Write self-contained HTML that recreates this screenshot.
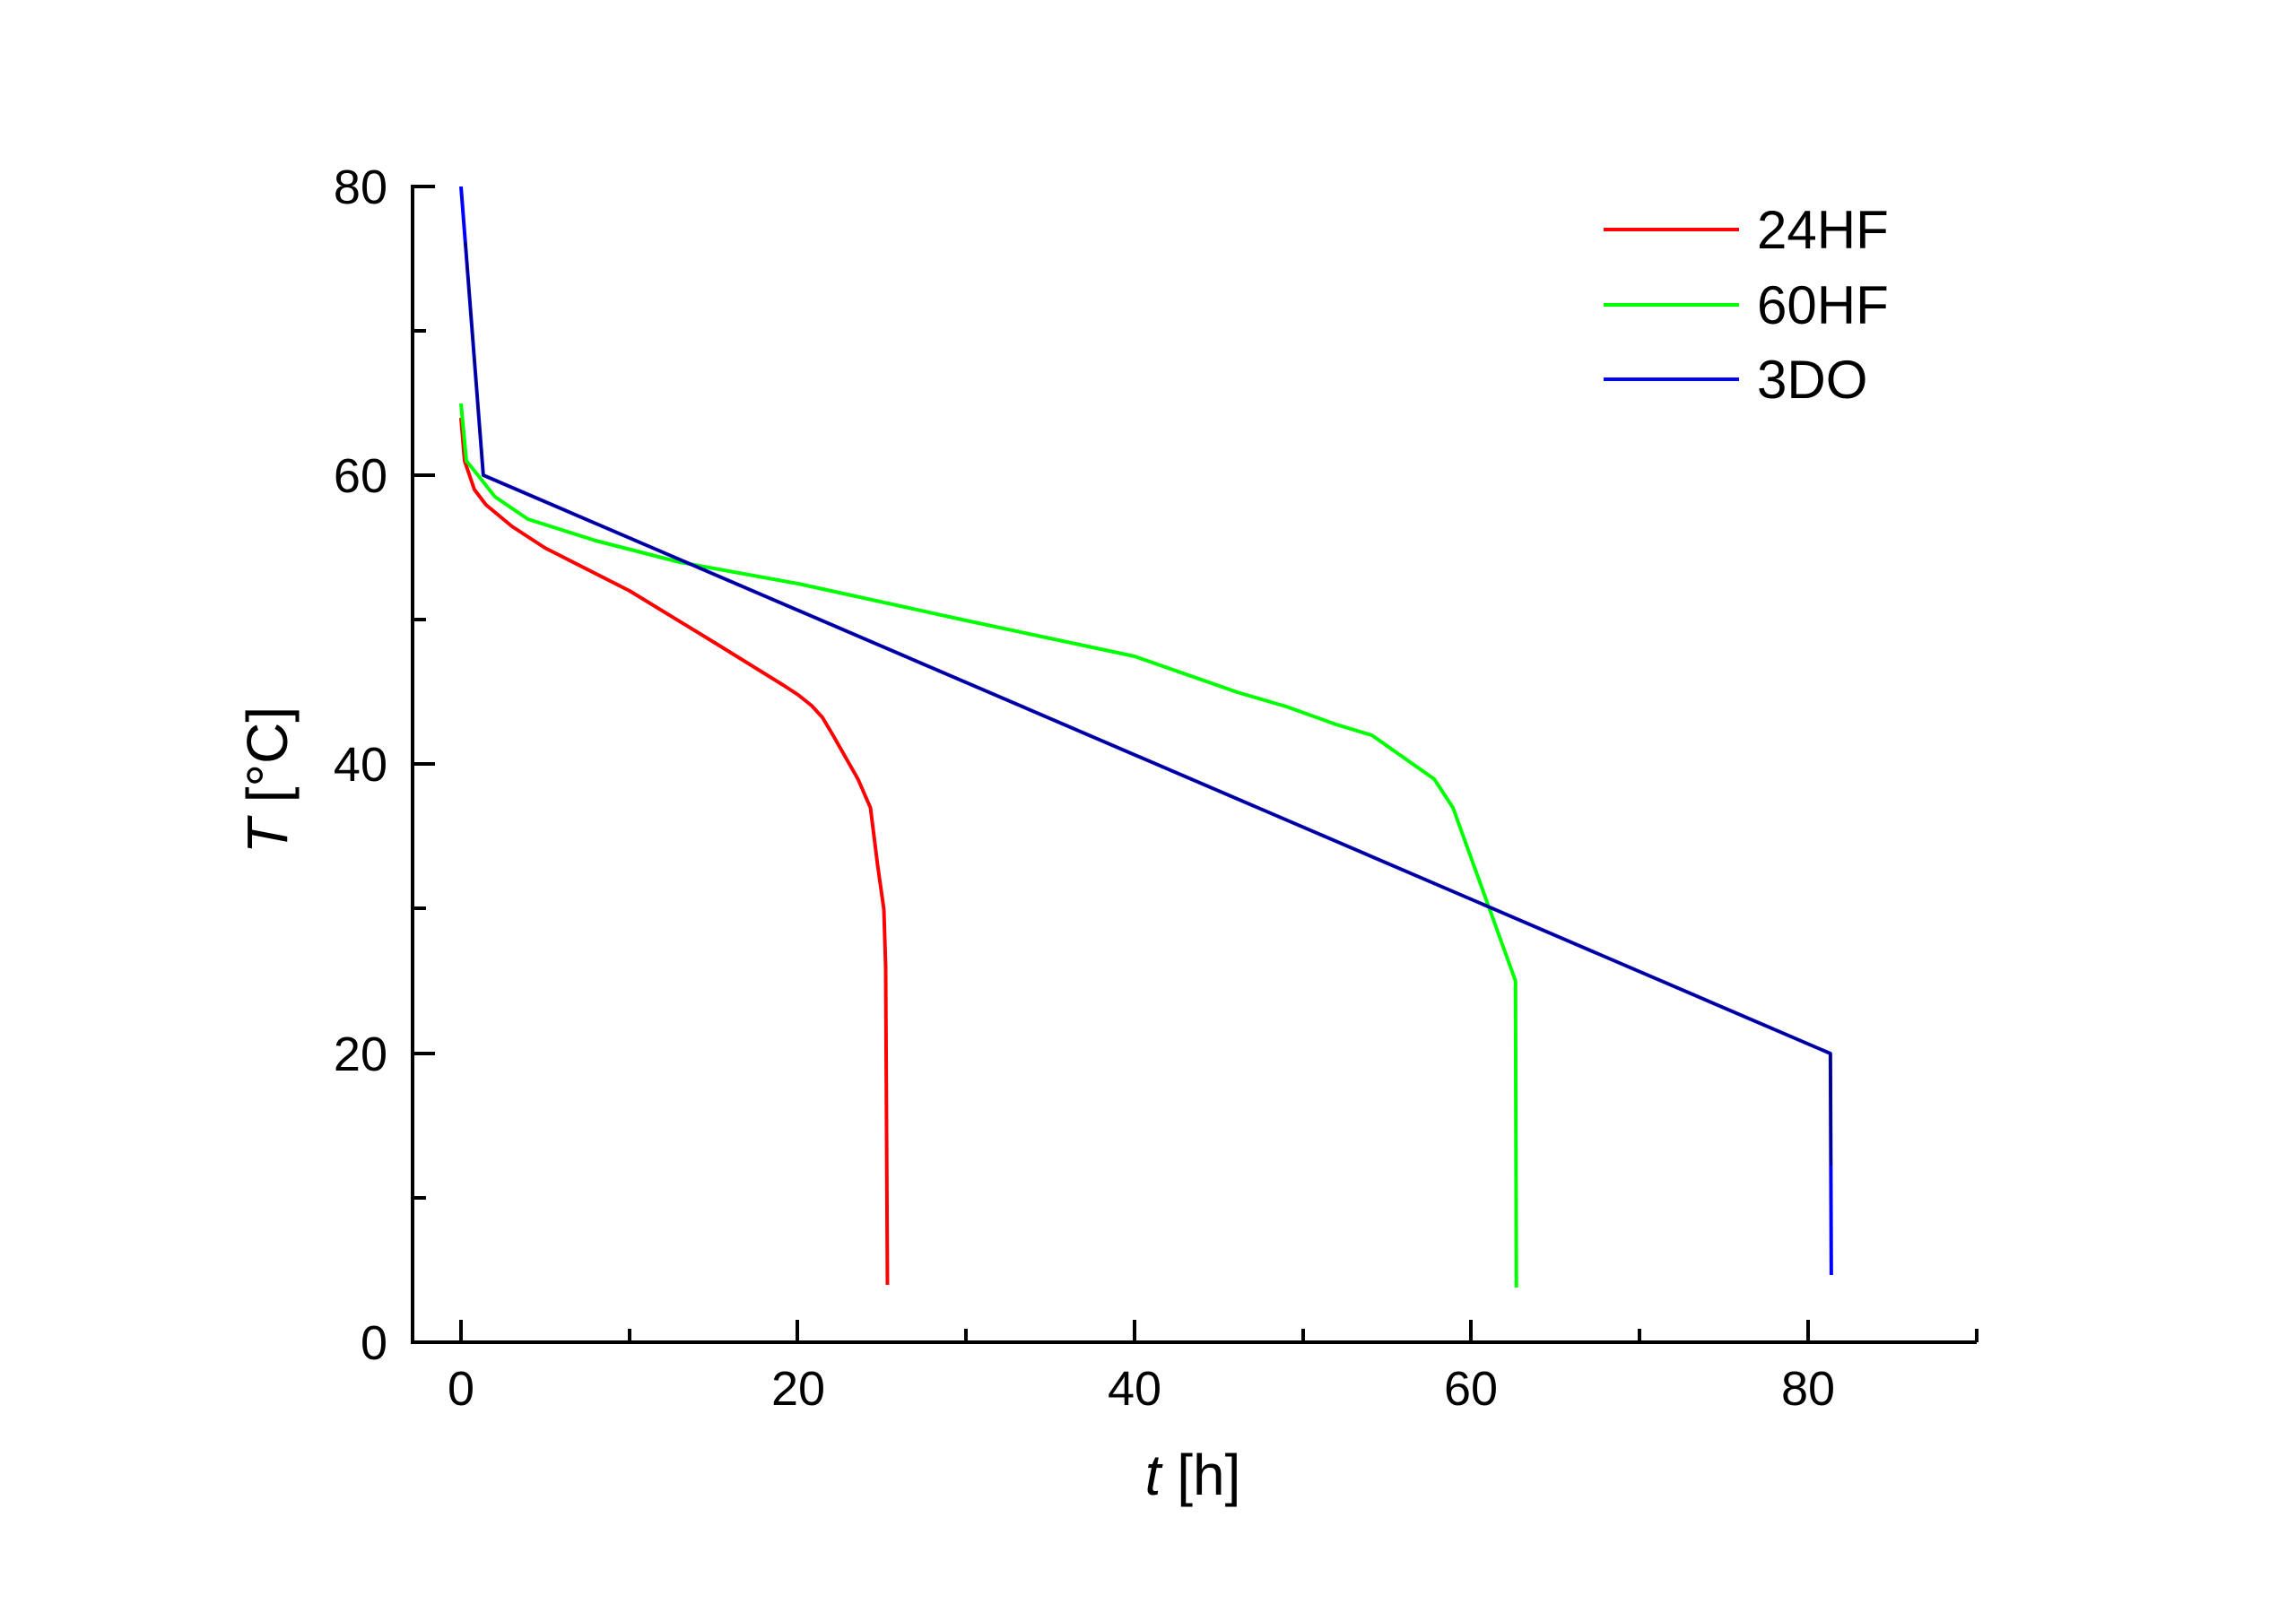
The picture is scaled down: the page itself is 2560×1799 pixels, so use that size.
<!DOCTYPE html>
<html><head><style>body{margin:0;background:#fff}</style></head><body>
<svg width="2560" height="1794" xmlns="http://www.w3.org/2000/svg" font-family="Liberation Sans, Arial, sans-serif">
<rect width="2560" height="1794" fill="#fff"/>
<g stroke="#000" stroke-width="4" fill="none">
<path d="M460,206 V1497 H2204"/>
<path d="M460,208 h25 M460,369 h15 M460,530 h25 M460,691 h15 M460,852 h25 M460,1013 h15 M460,1175 h25 M460,1336 h15"/>
<g transform="matrix(0.9947 0 0 1 -0.26 0)">
<path d="M517,1497 v-25 M706,1497 v-15 M894,1497 v-25 M1083,1497 v-15 M1272,1497 v-25 M1461,1497 v-15 M1649,1497 v-25 M1838,1497 v-15 M2027,1497 v-25 M2216,1497 v-15"/>
</g>
</g>
<g font-size="54" fill="#000" text-anchor="end">
<text x="432" y="227">80</text><text x="432" y="549">60</text><text x="432" y="871">40</text><text x="432" y="1194">20</text><text x="432" y="1516">0</text>
</g>
<g font-size="54" fill="#000" text-anchor="middle">
<text x="514" y="1567">0</text><text x="890" y="1567">20</text><text x="1265" y="1567">40</text><text x="1640" y="1567">60</text><text x="2016" y="1567">80</text>
<text x="1330" y="1667" font-size="64"><tspan font-style="italic">t</tspan> [h]</text>
<text transform="translate(320,870) rotate(-90)" font-size="64"><tspan font-style="italic">T</tspan> [°C]</text>
</g>
<g fill="none" stroke-width="4" stroke-linejoin="round" transform="matrix(0.9947 0 0 1 -0.26 0)">
<polyline stroke="#ff0000" points="517,466 521,514 532,546 545,563 574,587 611,611 706,659 800,716 878,764 895,775 910,787 922,800 934,820 962,869 976,901 984,965 991,1014 993,1078 995,1433"/>
<polyline stroke="#00ff00" points="517,450 523,514 536,530 555,554 592,579 668,603 762,627 895,651 1083,692 1272,732 1387,772 1442,788 1498,808 1538,820 1608,869 1629,901 1699,1094 1700,1436"/>
<polyline stroke="#0000ff" points="517,208 542,530 2052,1175 2053,1422"/>
<polyline stroke="#000080" stroke-width="2.5" points="522,270 542,530 2052,1175 2053,1300"/>
</g>
<g stroke-width="4">
<line x1="1788" y1="256" x2="1939" y2="256" stroke="#ff0000"/>
<line x1="1788" y1="340" x2="1939" y2="340" stroke="#00ff00"/>
<line x1="1788" y1="423" x2="1939" y2="423" stroke="#0000ff"/>
</g>
<g font-size="60" fill="#000">
<text x="1959" y="277">24HF</text><text x="1959" y="361">60HF</text><text x="1959" y="444">3DO</text>
</g>
</svg>
</body></html>
